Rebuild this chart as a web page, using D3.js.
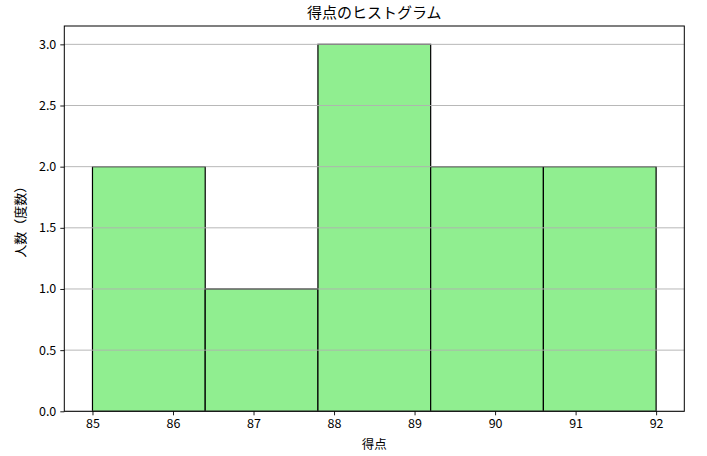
<!DOCTYPE html>
<html><head><meta charset="utf-8">
<script src="https://cdn.jsdelivr.net/npm/d3@7"></script>
<style>body{margin:0;background:#fff}text{font-family:"Noto Sans CJK JP","Noto Sans",sans-serif}</style>
</head><body><svg id="c" width="707" height="456"></svg>
<script>
const binEdges = [85, 86.4, 87.8, 89.2, 90.6, 92];
const counts = [2, 1, 3, 2, 2];
const xTicks = [85, 86, 87, 88, 89, 90, 91, 92];
const yTicks = [0, 0.5, 1.0, 1.5, 2.0, 2.5, 3.0];
const title = "得点のヒストグラム";
const xLabel = "得点";
const yLabel = "人数（度数）";

const svg = d3.select("#c");
const L = 64.3, R = 684.3, T = 26, B = 411.3;
const x = d3.scaleLinear().domain([84.65, 92.35]).range([L, R]);
const y = d3.scaleLinear().domain([0, 3.15]).range([B, T]);

const bins = counts.map((c, i) => ({x0: binEdges[i], x1: binEdges[i+1], c}));
svg.append("g").selectAll("rect").data(bins).join("rect")
  .attr("x", d => x(d.x0)).attr("y", d => y(d.c))
  .attr("width", d => x(d.x1) - x(d.x0)).attr("height", d => y(0) - y(d.c))
  .attr("fill", "#90ee90").attr("stroke", "#000").attr("stroke-width", 1.2);

// grid on top
svg.append("g").selectAll("line").data(yTicks).join("line")
  .attr("x1", L).attr("x2", R).attr("y1", d => y(d)).attr("y2", d => y(d))
  .attr("stroke", "#b0b0b0").attr("stroke-width", 0.9);

const xa = svg.append("g").attr("transform", `translate(0,${B})`)
  .call(d3.axisBottom(x).tickValues(xTicks).tickFormat(d3.format("d")).tickSizeOuter(0).tickSize(4).tickPadding(4));
const ya = svg.append("g").attr("transform", `translate(${L},0)`)
  .call(d3.axisLeft(y).tickValues(yTicks).tickFormat(d3.format(".1f")).tickSizeOuter(0).tickSize(4).tickPadding(4));
[xa, ya].forEach(a => {
  a.select(".domain").remove();
  a.selectAll("text").attr("font-size", 12.5).attr("fill", "#000")
    .style("font-family", '"Noto Sans CJK JP", sans-serif');
  a.selectAll("line").attr("stroke", "#000").attr("stroke-width", 0.9);
});

svg.append("rect").attr("x", L).attr("y", T).attr("width", R - L).attr("height", B - T)
  .attr("fill", "none").attr("stroke", "#000").attr("stroke-width", 1);

svg.append("text").attr("x", (L + R) / 2).attr("y", 18).attr("text-anchor", "middle")
  .attr("font-size", 15).text(title);
svg.append("text").attr("x", (L + R) / 2).attr("y", 449).attr("text-anchor", "middle")
  .attr("font-size", 12.5).text(xLabel);
svg.append("text").attr("transform", `translate(25,${(T + B) / 2}) rotate(-90)`)
  .attr("text-anchor", "middle").attr("font-size", 13).text(yLabel);
</script></body></html>
